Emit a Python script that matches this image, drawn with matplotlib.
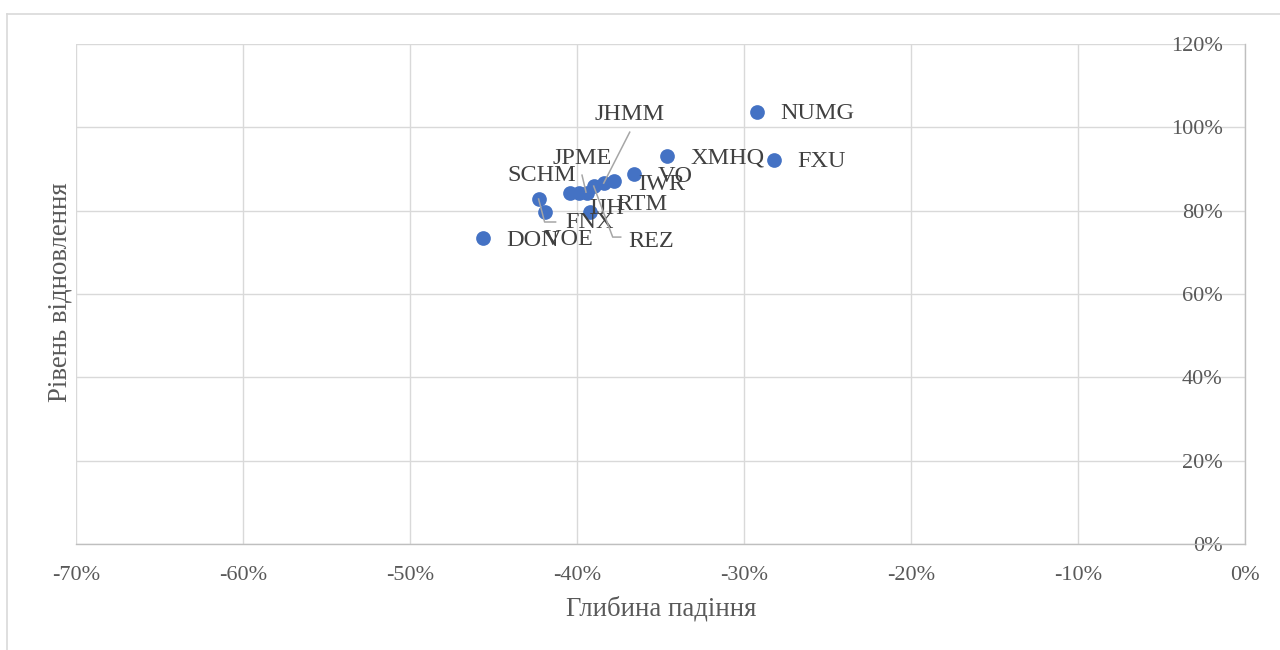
import matplotlib
matplotlib.use("Agg")
import matplotlib.pyplot as plt
from matplotlib.lines import Line2D
from matplotlib.transforms import IdentityTransform
from matplotlib.ticker import FuncFormatter

plt.rcParams['font.family'] = ['Liberation Serif', 'DejaVu Serif']

# Fund tickers and their drawdown depth / recovery level, in %
tickers = ['NUMG', 'FXU', 'XMHQ', 'VO', 'IWR', 'JHMM', 'REZ',
           'JPME', 'IJH', 'SCHM', 'RTM', 'FNX', 'VOE', 'DON']
drawdown = [-29.2, -28.2, -34.6, -36.6, -37.8, -38.4, -39.0,
            -39.4, -39.9, -40.4, -39.2, -42.3, -41.9, -45.6]
recovery = [103.7, 92.2, 93.1, 88.8, 87.1, 86.6, 85.9,
            84.2, 84.2, 84.2, 79.7, 82.8, 79.7, 73.4]

x_ticks = [-70, -60, -50, -40, -30, -20, -10, 0]
y_ticks = [0, 20, 40, 60, 80, 100, 120]

# label placement relative to the marker: (dx, dy in pixels, alignment)
label_pos = {
    'NUMG': (23, -2, 'left'),
    'FXU':  (23, -2, 'left'),
    'XMHQ': (23, -2, 'left'),
    'VO':   (24, -2, 'left'),
    'IWR':  (24, -3, 'left'),
    'JHMM': (26, 69, 'center'),
    'REZ':  (35, -55, 'left'),
    'JPME': (-5, 35, 'center'),
    'IJH':  (10, -15, 'left'),
    'SCHM': (-29, 18, 'center'),
    'RTM':  (26, 7, 'left'),
    'FNX':  (27, -23, 'left'),
    'VOE':  (-2, -28, 'left'),
    'DON':  (23, -2, 'left'),
}

# leader lines for labels moved away from their markers (pixel offsets)
leaders = {
    'JHMM': [(26, 51), (0, 0)],
    'JPME': [(-5, 18), (-1, 1)],
    'REZ':  [(0, 0), (19, -51), (27, -51)],
    'FNX':  [(0, 0), (6, -23), (17, -23)],
}

W, H = 1280, 650
fig = plt.figure(figsize=(W / 100, H / 100), dpi=100)
ax = fig.add_axes([76 / W, 1 - 544 / H, (1245 - 76) / W, 500 / H])

grid_c = '#d9d9d9'
axis_c = '#bfbfbf'

ax.set_xlim(-70, 0)
ax.set_ylim(0, 120)
ax.set_xticks(x_ticks)
ax.set_yticks(y_ticks)
ax.grid(True, color=grid_c, linewidth=1.0)
ax.set_axisbelow(True)

for side in ['top', 'left']:
    ax.spines[side].set_visible(False)
for side in ['bottom', 'right']:
    ax.spines[side].set_color(axis_c)
    ax.spines[side].set_linewidth(1.0)

pct = FuncFormatter(lambda v, _: f'{int(round(v))}%')
ax.xaxis.set_major_formatter(pct)
ax.yaxis.set_major_formatter(pct)
ax.yaxis.set_ticks_position('right')
ax.tick_params(axis='both', length=0, labelsize=16, labelcolor='#595959')
ax.tick_params(axis='x', pad=15.5)
ax.tick_params(axis='y', pad=-16)
for lab in ax.get_yticklabels():
    lab.set_horizontalalignment('right')

ax.scatter(drawdown, recovery, s=112, color='#4472C4', zorder=3, linewidths=0)

for t, x, y in zip(tickers, drawdown, recovery):
    dx, dy, ha = label_pos[t]
    ax.annotate(t, xy=(x, y), xytext=(dx, dy), textcoords='offset pixels',
                ha=ha, va='center', fontsize=17.5, color='#404040', zorder=4)
    if t in leaders:
        px, py = ax.transData.transform((x, y))
        xs = [px + ox for ox, oy in leaders[t]]
        ys = [py + oy for ox, oy in leaders[t]]
        fig.add_artist(Line2D(xs, ys, transform=IdentityTransform(),
                              color='#a6a6a6', lw=1.1, zorder=5))

fig.text(661 / W, 1 - 609 / H, 'Глибина падіння', ha='center', va='center',
         fontsize=19.3, color='#595959')
fig.text(60 / W, 1 - 292 / H, 'Рівень відновлення', ha='center', va='center',
         rotation=90, fontsize=19.3, color='#595959')

# chart frame
fig.add_artist(Line2D([7 / W, 1.0], [1 - 14 / H, 1 - 14 / H], color=grid_c, lw=1.2))
fig.add_artist(Line2D([7 / W, 7 / W], [1 - 14 / H, 0.0], color=grid_c, lw=1.2))

fig.savefig('out.png', dpi=100, facecolor='white')
